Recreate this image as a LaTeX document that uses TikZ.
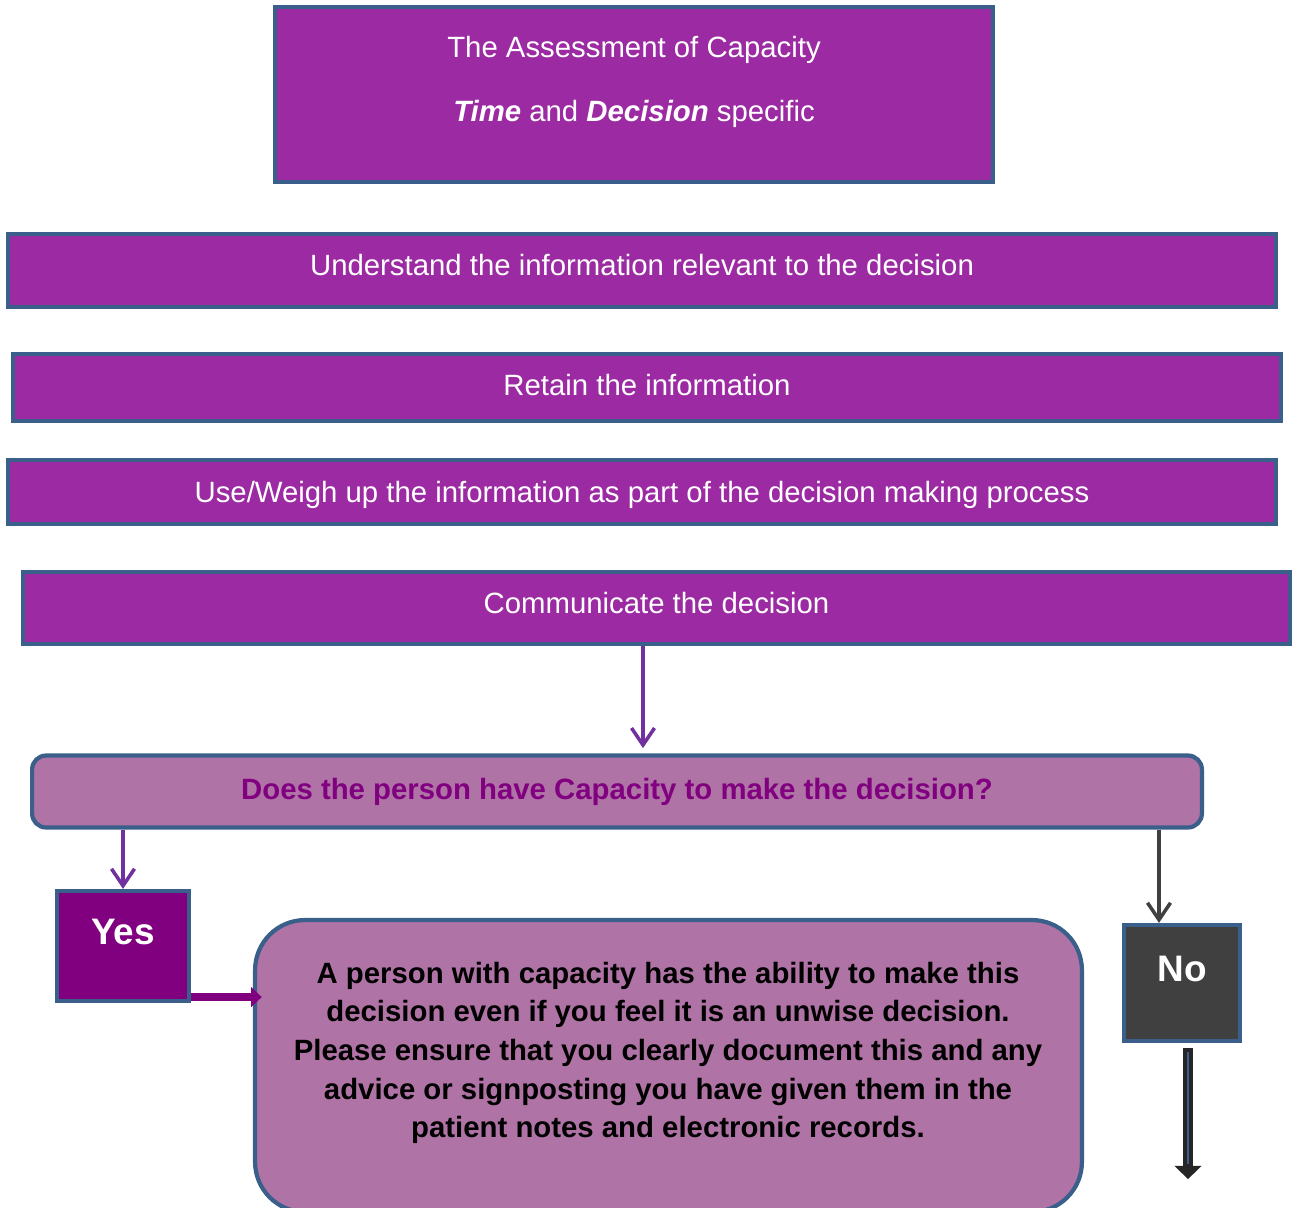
\documentclass[tikz,border=0pt]{standalone}
\usepackage{fontspec}
\setmainfont{Liberation Sans}
\usepackage{xcolor}
\usepackage{tikz}
\usetikzlibrary{
    arrows.meta,
    calc,
    positioning
}
\definecolor{capborder}{HTML}{3A5F8B}
\definecolor{capmain}{HTML}{9B2AA3}
\definecolor{capquestion}{HTML}{B073A6}
\definecolor{capplum}{HTML}{800080}
\definecolor{caparrow}{HTML}{7030A0}
\definecolor{capdark}{HTML}{404040}
\definecolor{capblack}{HTML}{262626}
\tikzstyle{process}=[
    rectangle,
    align=center,
    draw=capborder,
    fill=capmain,
    line width=2.4pt,
    text=white,
    text height=12pt,
    text depth=3pt
]
\tikzstyle{decision}=[
    rectangle,
    rounded corners=0.28cm,
    align=center,
    draw=capborder,
    fill=capquestion,
    line width=2.4pt,
    text=capplum,
    font=\fontsize{16.7}{20}\selectfont\bfseries
]
\tikzstyle{answer}=[
    rectangle,
    draw=capborder,
    line width=2.4pt,
    text=white,
    font=\fontsize{21}{25}\selectfont\bfseries,
    text height=14pt,
    text depth=16pt
]
\tikzstyle{advicebox}=[
    rectangle,
    rounded corners=1cm,
    draw=capborder,
    fill=capquestion,
    line width=2.4pt
]
\tikzstyle{arrow}=[line width=2pt,-{Straight Barb[length=3.4mm,width=4.6mm]},draw=caparrow]

\begin{document}
\begin{tikzpicture}[x=0.02cm,y=-0.02cm,every node/.style={font=\fontsize{16.7}{20}\selectfont}]
\useasboundingbox (0,0) rectangle (1298,1207);
\node[process,minimum width=14.36cm,minimum height=3.5cm] (start) at (634,94.5) {};
\node[align=center,text=white,font=\fontsize{16.7}{36.4}\selectfont] (starttext) at (634,82)
    {The Assessment of Capacity\\\textbf{\textit{Time}} and \textbf{\textit{Decision}} specific};
\node[process,minimum width=25.36cm,minimum height=1.46cm,text depth=6.4pt] (understand) at (642,270.5) {Understand the information relevant to the decision};
\node[process,minimum width=25.36cm,minimum height=1.34cm] (retain) at (647,387.5) {Retain the information};
\node[process,minimum width=25.36cm,minimum height=1.28cm,text depth=0pt] (weigh) at (642,492) {Use/Weigh up the information as part of the decision making process};
\node[process,minimum width=25.34cm,minimum height=1.44cm,text depth=5.3pt] (communicate) at (656.5,608) {Communicate the decision};
\node[decision,minimum width=23.4cm,minimum height=1.44cm] (capacity) at (617,791.5) {Does the person have Capacity to make the decision?};
\node[answer,fill=capplum,minimum width=2.64cm,minimum height=2.2cm] (yes) at (123,946) {Yes};
\node[answer,fill=capdark,minimum width=2.32cm,minimum height=2.32cm] (no) at (1182,983) {No};
\node[advicebox,minimum width=16.54cm,minimum height=5.84cm] (advice) at (668.5,1066) {};
\node[align=center,font=\fontsize{16.7}{22}\selectfont\bfseries] (advicetext) at (668,1053)
    {A person with capacity has the ability to make this\\
     decision even if you feel it is an unwise decision.\\
     Please ensure that you clearly document this and any\\
     advice or signposting you have given them in the\\
     patient notes and electronic records.};

\draw[arrow,shorten >=3pt] ([xshift=-0.27cm]communicate.south) -- ([xshift=-0.27cm]communicate.south |- capacity.north);
\draw[arrow] (capacity.south -| yes.north) -- (yes.north);
\draw[arrow,draw=capdark] ([xshift=-0.46cm]no.north |- capacity.south) -- ([xshift=-0.46cm]no.north);
\draw[line width=4.2pt,draw=capplum,-{Triangle[length=6pt,width=11pt]},shorten >=-5pt] ([yshift=0.12cm]yes.south east) -- ([yshift=0.12cm]yes.south east -| advice.west);
\draw[line width=6pt,draw=capblack,-{Triangle[length=7.5pt,width=15pt]}] ([xshift=0.12cm,yshift=-0.1cm]no.south) -- ++(0,131);
\draw[line width=0.8pt,draw=capborder] ([xshift=0.12cm,yshift=-0.18cm]no.south) -- ++(0,112);
\end{tikzpicture}
\end{document}
